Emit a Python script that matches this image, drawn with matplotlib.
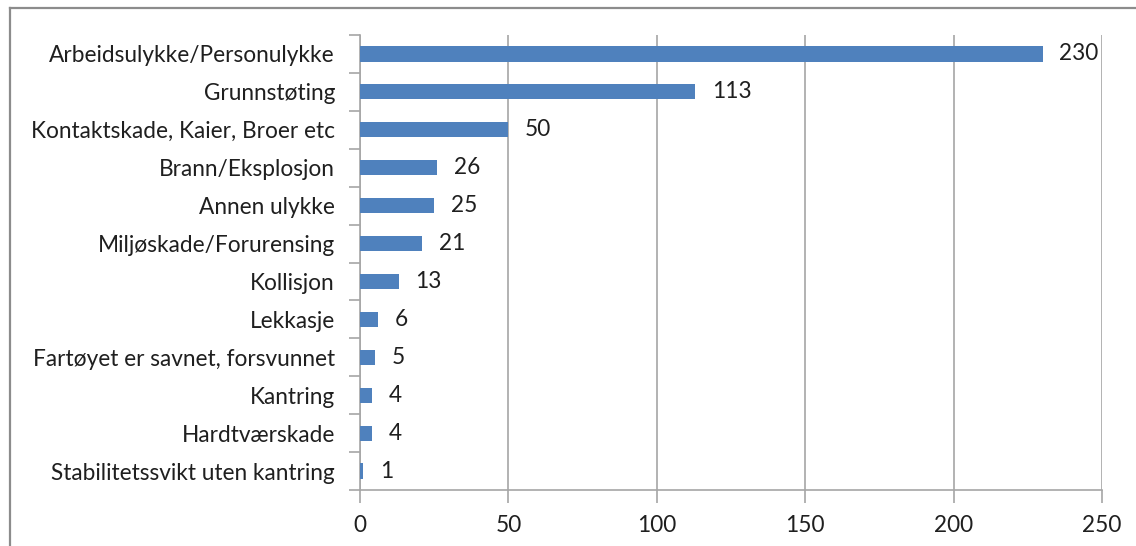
import matplotlib
matplotlib.use("Agg")
import matplotlib.pyplot as plt
from matplotlib.lines import Line2D
import numpy as np

categories = [
    "Arbeidsulykke/Personulykke",
    "Grunnstøting",
    "Kontaktskade, Kaier, Broer etc",
    "Brann/Eksplosjon",
    "Annen ulykke",
    "Miljøskade/Forurensing",
    "Kollisjon",
    "Lekkasje",
    "Fartøyet er savnet, forsvunnet",
    "Kantring",
    "Hardtværskade",
    "Stabilitetssvikt uten kantring",
]
values = [230, 113, 50, 26, 25, 21, 13, 6, 5, 4, 4, 1]
xticks = [0, 50, 100, 150, 200, 250]

plt.rcParams["font.family"] = ["Lato", "DejaVu Sans"]
bar_color = "#4F81BD"
axis_color = "#A6A6A6"
text_color = "#1F1F1F"
fs = 16.3

fig = plt.figure(figsize=(11.36, 5.46), dpi=100)
ax = fig.add_axes([360 / 1136, 1 - 490 / 546, (1102 - 360) / 1136, (490 - 35) / 546])

n = len(categories)
y = np.arange(n)[::-1]
ax.barh(y, values, height=0.4, color=bar_color, zorder=3)
for yi, v in zip(y, values):
    ax.annotate(str(v), (v, yi), xytext=(12, 0), textcoords="offset points",
                va="center", ha="left", fontsize=fs, color=text_color)

ax.set_xlim(0, 250)
ax.set_ylim(-0.5, n - 0.5)
ax.set_xticks(xticks)
ax.set_xticklabels([str(t) for t in xticks], fontsize=fs, color=text_color)
ax.xaxis.grid(True, color=axis_color, linewidth=1.2, zorder=0)

# category boundaries carry the tick marks, labels sit in between
ax.set_yticks(np.arange(n + 1) - 0.5)
ax.set_yticklabels([])
ax.set_yticks(y, minor=True)
ax.set_yticklabels(categories, minor=True, fontsize=fs, color=text_color)
ax.tick_params(axis="y", which="minor", length=0, pad=18)
ax.tick_params(axis="y", which="major", length=8, color=axis_color, width=1.2)
ax.tick_params(axis="x", length=9, color=axis_color, width=1.2, pad=9)

for side in ["top", "right"]:
    ax.spines[side].set_visible(False)
for side in ["left", "bottom"]:
    ax.spines[side].set_color(axis_color)
    ax.spines[side].set_linewidth(1.2)

# outer chart frame, cut off at right and bottom
fx, fy = 10 / 1136, 1 - 8 / 546
fig.add_artist(Line2D([fx, fx], [0, fy], transform=fig.transFigure, color="#8C8C8C", linewidth=1.6))
fig.add_artist(Line2D([fx, 1], [fy, fy], transform=fig.transFigure, color="#8C8C8C", linewidth=1.6))

fig.savefig("out.png", dpi=100)
